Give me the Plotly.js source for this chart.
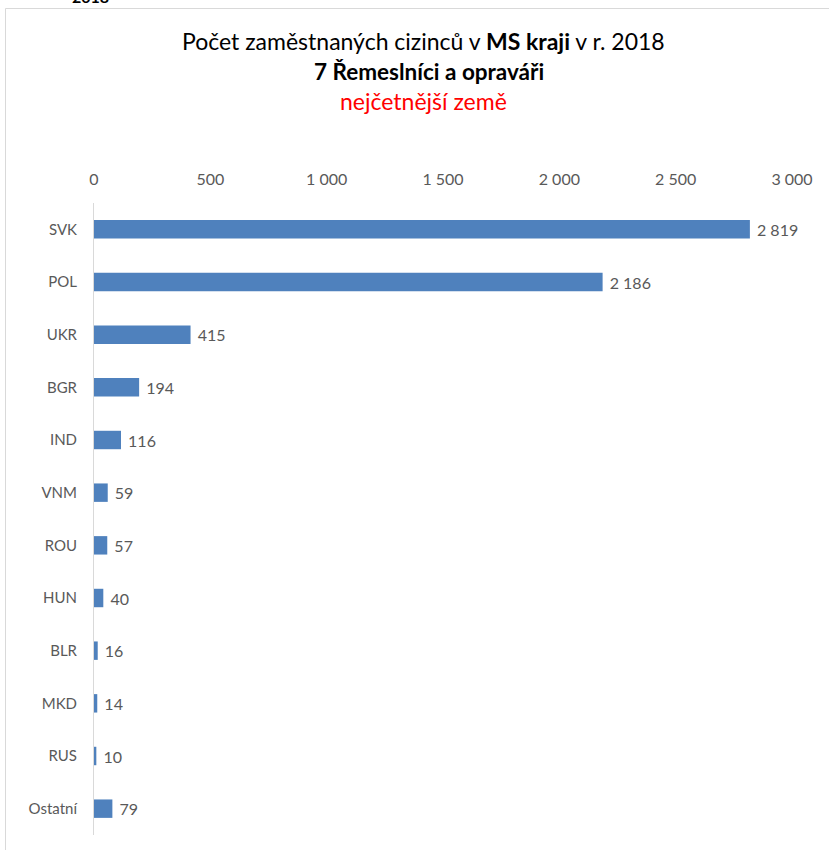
<!DOCTYPE html>
<html>
<head>
<meta charset="utf-8">
<script src="https://cdn.plot.ly/plotly-3.0.1.min.js"></script>
<style>html,body{margin:0;padding:0;background:#fff;}#chart{width:829px;height:850px;}</style>
</head>
<body>
<div id="chart"></div>
<script>
const countries = ["SVK", "POL", "UKR", "BGR", "IND", "VNM", "ROU", "HUN", "BLR", "MKD", "RUS", "Ostatní"];
const workers = [2819, 2186, 415, 194, 116, 59, 57, 40, 16, 14, 10, 79];
const xTicks = [0, 500, 1000, 1500, 2000, 2500, 3000];

const FONT = "Lato, 'Open Sans', sans-serif";
const L = 94, R = 37, T = 203, B = 15, W = 829, H = 850;
const pw = W - L - R, ph = H - T - B;
const px = v => (v - L) / pw;
const py = v => (H - B - v) / ph;

const trace = {
  type: "bar",
  orientation: "h",
  y: countries,
  x: workers,
  width: 0.35,
  marker: {color: "#4f81bd"},
  texttemplate: "\u00a0%{x:,}",
  textposition: "outside",
  constraintext: "none",
  textfont: {family: FONT, size: 16, color: "#595959"},
  cliponaxis: false,
  hoverinfo: "skip"
};

const layout = {
  width: W, height: H,
  margin: {l: L, r: R, t: T, b: B},
  paper_bgcolor: "#ffffff",
  plot_bgcolor: "#ffffff",
  separators: ", ",
  showlegend: false,
  font: {family: FONT, color: "#595959"},
  xaxis: {
    side: "top",
    range: [0, 3000],
    tickvals: xTicks,
    tickformat: ",",
    showgrid: false,
    zeroline: false,
    showline: false,
    ticks: "",
    ticklabelstandoff: 14,
    tickfont: {family: FONT, size: 16, color: "#595959"},
    fixedrange: true
  },
  yaxis: {
    type: "category",
    categoryorder: "array",
    categoryarray: countries,
    range: [11.5, -0.5],
    showgrid: false,
    zeroline: false,
    showline: true,
    linecolor: "#d9d9d9",
    linewidth: 1,
    ticks: "",
    ticklabelstandoff: 13,
    tickfont: {family: FONT, size: 15, color: "#595959"},
    fixedrange: true
  },
  shapes: [
    {type: "line", xref: "paper", yref: "paper", x0: px(5.5), x1: px(5.5), y0: py(8.5), y1: py(860), line: {color: "#d9d9d9", width: 1}},
    {type: "line", xref: "paper", yref: "paper", x0: px(5.5), x1: px(840), y0: py(8.5), y1: py(8.5), line: {color: "#d9d9d9", width: 1}}
  ],
  annotations: [
    {xref: "paper", yref: "paper", x: px(90), y: py(-4), xanchor: "center", yanchor: "middle", showarrow: false,
     text: "<b>2018</b>", font: {family: FONT, size: 16, color: "#000000"}},
    {xref: "paper", yref: "paper", x: px(423), y: py(41), xanchor: "center", yanchor: "middle", showarrow: false,
     text: "Počet zaměstnaných cizinců v <b>MS kraji</b> v r. 2018", font: {family: FONT, size: 23, color: "#000000"}},
    {xref: "paper", yref: "paper", x: px(429), y: py(71), xanchor: "center", yanchor: "middle", showarrow: false,
     text: "<b>7 Řemeslníci a opraváři</b>", font: {family: FONT, size: 22.5, color: "#000000"}},
    {xref: "paper", yref: "paper", x: px(423), y: py(101), xanchor: "center", yanchor: "middle", showarrow: false,
     text: "nejčetnější země", font: {family: FONT, size: 23, color: "#ff0000"}}
  ]
};

Plotly.newPlot("chart", [trace], layout, {displayModeBar: false, staticPlot: true});
</script>
</body>
</html>
